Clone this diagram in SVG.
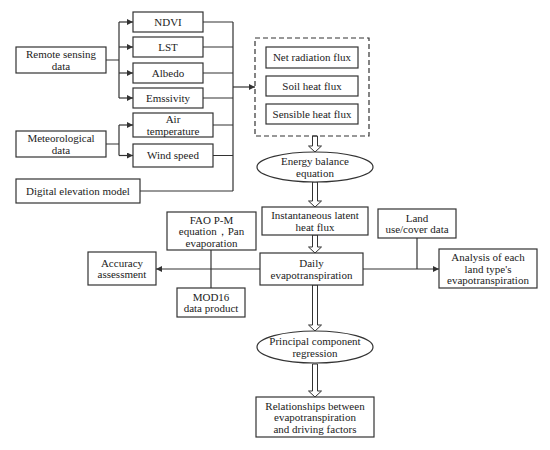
<svg xmlns="http://www.w3.org/2000/svg" width="550" height="450" viewBox="0 0 550 450">
<defs>
<style>
.box{fill:#fff;stroke:#333;stroke-width:1.2}
.dash{fill:none;stroke:#333;stroke-width:1.2;stroke-dasharray:5,3}
.ln{fill:none;stroke:#333;stroke-width:1.2}
.ha{fill:#fff;stroke:#333;stroke-width:1}
text{font-size:11px;fill:#222;text-anchor:middle}
</style>
<marker id="ah" viewBox="0 0 10 10" refX="10" refY="5" markerWidth="8" markerHeight="6" markerUnits="userSpaceOnUse" orient="auto">
<path d="M0,0 L10,5 L0,10 Z" fill="#333"/>
</marker>
</defs>
<rect width="550" height="450" fill="#fff"/>
<g id="connectors">
<path class="ln" d="M106,60 H119 M119,22 V98" />
<path class="ln" marker-end="url(#ah)" d="M119,22 H133"/>
<path class="ln" marker-end="url(#ah)" d="M119,47 H133"/>
<path class="ln" marker-end="url(#ah)" d="M119,73 H133"/>
<path class="ln" marker-end="url(#ah)" d="M119,98 H133"/>
<path class="ln" d="M106,144 H119 M119,125 V155.5"/>
<path class="ln" marker-end="url(#ah)" d="M119,125 H133"/>
<path class="ln" marker-end="url(#ah)" d="M119,155.5 H133"/>
<path class="ln" d="M203,22 H233 M203,47 H233 M203,73 H233 M203,98 H233 M213,125 H233 M213,155.5 H233 M140,191 H233 M233,22 V191"/>
<path class="ln" marker-end="url(#ah)" d="M233,87 H255"/>
<path class="ln" marker-end="url(#ah)" d="M260,269 H156"/>
<path class="ln" d="M211,250 V288"/>
<path class="ln" marker-end="url(#ah)" d="M363,269 H439"/>
<path class="ln" d="M417,238 V269"/>
<path class="ha" d="M312.5,136 V146 H308.5 L315,152 L321.5,146 H317.5 V136 Z"/>
<path class="ha" d="M312.5,182 V201 H308.5 L315,207 L321.5,201 H317.5 V182 Z"/>
<path class="ha" d="M312.5,235 V247 H308.5 L315,253 L321.5,247 H317.5 V235 Z"/>
<path class="ha" d="M312.5,285 V325 H308.5 L315,331 L321.5,325 H317.5 V285 Z"/>
<path class="ha" d="M312.5,364 V391 H308.5 L315,397 L321.5,391 H317.5 V364 Z"/>
</g>
<g font-family="'Liberation Serif', 'DejaVu Serif', serif">
<g id="rs"><rect class="box" x="16" y="47" width="90" height="26"/><text x="61" y="58">Remote sensing</text><text x="61" y="69.5">data</text></g>
<g id="met"><rect class="box" x="16" y="131" width="90" height="26"/><text x="61" y="142">Meteorological</text><text x="61" y="153.5">data</text></g>
<g id="dem"><rect class="box" x="16" y="179" width="124" height="24"/><text x="78" y="195">Digital elevation model</text></g>
<g id="ndvi"><rect class="box" x="133" y="12" width="70" height="20"/><text x="168" y="26">NDVI</text></g>
<g id="lst"><rect class="box" x="133" y="37" width="70" height="20"/><text x="168" y="51">LST</text></g>
<g id="albedo"><rect class="box" x="133" y="63" width="70" height="20"/><text x="168" y="77">Albedo</text></g>
<g id="emis"><rect class="box" x="133" y="88" width="70" height="20"/><text x="168" y="102">Emssivity</text></g>
<g id="air"><rect class="box" x="133" y="113" width="80" height="24"/><text x="173" y="123">Air</text><text x="173" y="134.5">temperature</text></g>
<g id="wind"><rect class="box" x="133" y="144" width="80" height="23"/><text x="173" y="159">Wind speed</text></g>
<g id="fluxes"><rect class="dash" x="255" y="38" width="114" height="98"/></g>
<g id="netrad"><rect class="box" x="266" y="47" width="92" height="21"/><text x="312" y="61">Net radiation flux</text></g>
<g id="soil"><rect class="box" x="266" y="76" width="92" height="20"/><text x="312" y="90">Soil heat flux</text></g>
<g id="sens"><rect class="box" x="266" y="104" width="92" height="20"/><text x="312" y="118">Sensible heat flux</text></g>
<g id="ebe"><ellipse class="box" cx="315" cy="167" rx="58" ry="15"/><text x="315" y="165">Energy balance</text><text x="315" y="176.5">equation</text></g>
<g id="inst"><rect class="box" x="262" y="207" width="106" height="28"/><text x="315" y="219">Instantaneous latent</text><text x="315" y="230.5">heat flux</text></g>
<g id="daily"><rect class="box" x="260" y="253" width="103" height="32"/><text x="311.5" y="267">Daily</text><text x="311.5" y="278.5">evapotranspiration</text></g>
<g id="fao"><rect class="box" x="167" y="212" width="89" height="38"/><text x="211.5" y="223.5">FAO P-M</text><text x="211.5" y="235">equation，Pan</text><text x="211.5" y="246.5">evaporation</text></g>
<g id="mod16"><rect class="box" x="177" y="288" width="68" height="29"/><text x="211" y="300.5">MOD16</text><text x="211" y="312">data product</text></g>
<g id="acc"><rect class="box" x="88" y="252" width="68" height="33"/><text x="122" y="266.5">Accuracy</text><text x="122" y="278">assessment</text></g>
<g id="land"><rect class="box" x="378" y="209" width="78" height="29"/><text x="417" y="221.5">Land</text><text x="417" y="233">use/cover data</text></g>
<g id="analysis"><rect class="box" x="439" y="249" width="98" height="39"/><text x="488" y="261">Analysis of each</text><text x="488" y="272.5">land type's</text><text x="488" y="284">evapotranspiration</text></g>
<g id="pcr"><ellipse class="box" cx="315" cy="347" rx="58" ry="16"/><text x="315" y="345">Principal component</text><text x="315" y="356.5">regression</text></g>
<g id="rel"><rect class="box" x="256" y="397" width="118" height="40"/><text x="315" y="409.5">Relationships between</text><text x="315" y="421">evapotranspiration</text><text x="315" y="432.5">and driving factors</text></g>
</g>
</svg>
